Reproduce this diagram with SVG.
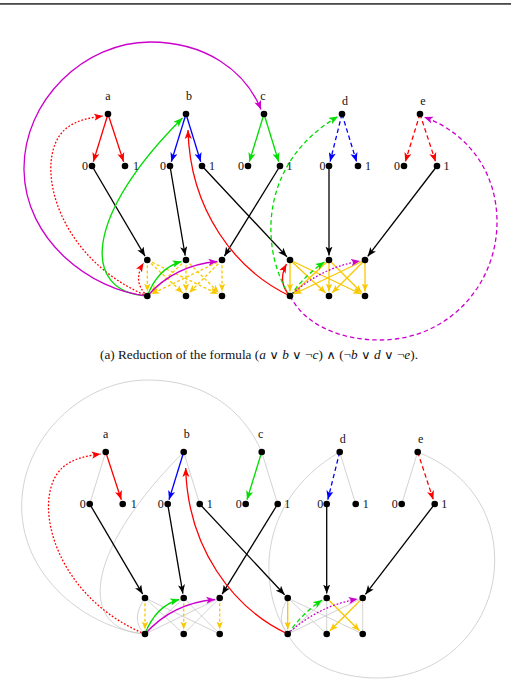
<svg xmlns="http://www.w3.org/2000/svg" width="511" height="684" viewBox="0 0 511 684">
<style>
.e{fill:none;stroke-width:1.3}
.k{stroke:#000}
.r{stroke:#ff0000}
.bl{stroke:#0000ff}
.g{stroke:#00dd00}
.m{stroke:#cc00cc}
.y{stroke:#f8c800}
.gr{fill:none;stroke:#c8c8c8;stroke-width:0.8}
.dash{stroke-dasharray:4.5 3}
.ydash{stroke-dasharray:3 2.2}
.dot{stroke-dasharray:1.8 1.8}
.nd{fill:#000}
.lb{font-family:"Liberation Serif","DejaVu Serif",serif;font-size:12px;fill:#111;text-anchor:middle}
.cap{font-family:"Liberation Serif","DejaVu Serif",serif;font-size:11.5px;fill:#111}
</style>
<defs>
<marker id="mk" viewBox="0 0 10 8" refX="10" refY="4" markerWidth="9" markerHeight="7.5" orient="auto" markerUnits="userSpaceOnUse"><path d="M0,0 L10,4 L0,8 L2.5,4 z" fill="#000"/></marker>
<marker id="mr" viewBox="0 0 10 8" refX="10" refY="4" markerWidth="9" markerHeight="7.5" orient="auto" markerUnits="userSpaceOnUse"><path d="M0,0 L10,4 L0,8 L2.5,4 z" fill="#ff0000"/></marker>
<marker id="mb" viewBox="0 0 10 8" refX="10" refY="4" markerWidth="9" markerHeight="7.5" orient="auto" markerUnits="userSpaceOnUse"><path d="M0,0 L10,4 L0,8 L2.5,4 z" fill="#0000ff"/></marker>
<marker id="mg" viewBox="0 0 10 8" refX="10" refY="4" markerWidth="9" markerHeight="7.5" orient="auto" markerUnits="userSpaceOnUse"><path d="M0,0 L10,4 L0,8 L2.5,4 z" fill="#00dd00"/></marker>
<marker id="mm" viewBox="0 0 10 8" refX="10" refY="4" markerWidth="9" markerHeight="7.5" orient="auto" markerUnits="userSpaceOnUse"><path d="M0,0 L10,4 L0,8 L2.5,4 z" fill="#cc00cc"/></marker>
<marker id="my" viewBox="0 0 10 8" refX="10" refY="4" markerWidth="8" markerHeight="7" orient="auto" markerUnits="userSpaceOnUse"><path d="M0,0 L10,4 L0,8 L2.5,4 z" fill="#f8c800"/></marker>
<circle id="dotnode" r="3.3" class="nd"/>
</defs>
<rect x="0" y="3" width="511" height="1.8" fill="#4a4a4a"/>

<!-- ================= (a) top diagram ================= -->
<g id="edges-a">
  <!-- gold dashed, left group -->
  <path class="e y ydash" d="M147.3,260 L147.3,291.5" marker-end="url(#my)"/>
  <path class="e y ydash" d="M147.3,260 L182.7,292.9" marker-end="url(#my)"/>
  <path class="e y ydash" d="M147.3,260 L217.9,294" marker-end="url(#my)"/>
  <path class="e y ydash" d="M186,260 L150.6,292.9" marker-end="url(#my)"/>
  <path class="e y ydash" d="M186,260 L186,291.5" marker-end="url(#my)"/>
  <path class="e y ydash" d="M186,260 L218.8,292.8" marker-end="url(#my)"/>
  <path class="e y ydash" d="M222,260 L151.4,294" marker-end="url(#my)"/>
  <path class="e y ydash" d="M222,260 L189.2,292.8" marker-end="url(#my)"/>
  <path class="e y ydash" d="M222,260 L222,291.5" marker-end="url(#my)"/>
  <!-- gold solid, right group -->
  <path class="e y" d="M290,260 L290,291.5" marker-end="url(#my)"/>
  <path class="e y" d="M290,260 L325.7,292.9" marker-end="url(#my)"/>
  <path class="e y" d="M290,260 L360.9,294" marker-end="url(#my)"/>
  <path class="e y" d="M329,260 L293.3,292.9" marker-end="url(#my)"/>
  <path class="e y" d="M329,260 L329,291.5" marker-end="url(#my)"/>
  <path class="e y" d="M329,260 L361.8,292.8" marker-end="url(#my)"/>
  <path class="e y" d="M365,260 L294.1,294" marker-end="url(#my)"/>
  <path class="e y" d="M365,260 L332.2,292.8" marker-end="url(#my)"/>
  <path class="e y" d="M365,260 L365,291.5" marker-end="url(#my)"/>
  <!-- variable trees -->
  <path class="e r" d="M108,114 L93.3,161.7" marker-end="url(#mr)"/>
  <path class="e r" d="M108,114 L123.6,161.7" marker-end="url(#mr)"/>
  <path class="e bl" d="M186,114 L171.3,161.7" marker-end="url(#mb)"/>
  <path class="e bl" d="M186,114 L200.7,161.7" marker-end="url(#mb)"/>
  <path class="e g" d="M264,114 L249.3,161.7" marker-end="url(#mg)"/>
  <path class="e g" d="M264,114 L278.7,161.7" marker-end="url(#mg)"/>
  <path class="e bl dash" d="M342,114 L330.1,161.6" marker-end="url(#mb)"/>
  <path class="e bl dash" d="M342,114 L356.6,161.7" marker-end="url(#mb)"/>
  <path class="e r dash" d="M420,114 L405.3,161.7" marker-end="url(#mr)"/>
  <path class="e r dash" d="M420,114 L435.6,161.7" marker-end="url(#mr)"/>
  <!-- black -->
  <path class="e k" d="M92,166 L145,256.1" marker-end="url(#mk)"/>
  <path class="e k" d="M170,166 L185.2,255.6" marker-end="url(#mk)"/>
  <path class="e k" d="M280,166 L224.4,256.2" marker-end="url(#mk)"/>
  <path class="e k" d="M202,166 L286.9,256.7" marker-end="url(#mk)"/>
  <path class="e k" d="M329,166 L329,255.5" marker-end="url(#mk)"/>
  <path class="e k" d="M437,166 L367.7,256.4" marker-end="url(#mk)"/>
  <!-- clause 1 curves -->
  <path class="e r dot" d="M147.3,296 C60,260 35,170 60,135 C70,121 88,118 103,116" marker-end="url(#mr)"/>
  <path class="e r dot" d="M147.3,296 Q132,282 143.5,263" marker-end="url(#mr)"/>
  <path class="e g" d="M147.3,296 C80,292 85,215 182.5,118" marker-end="url(#mg)"/>
  <path class="e g" d="M147.3,296 Q158,268 181.5,261.5" marker-end="url(#mg)"/>
  <path class="e m" d="M147.3,296 Q175,265 217.5,261.5" marker-end="url(#mm)"/>
  <path class="e m" d="M147.3,296 C90,290 25,240 24,170 C23,100 85,42 150,42 C205,42 245,70 261,109.5" marker-end="url(#mm)"/>
  <!-- clause 2 curves -->
  <path class="e r" d="M290,296 C235,270 190,210 188,130" marker-end="url(#mr)"/>
  <path class="e r" d="M290,296 Q277,282 286.5,264" marker-end="url(#mr)"/>
  <path class="e g dash" d="M290,296 C262,255 255,165 338,116.5" marker-end="url(#mg)"/>
  <path class="e g dash" d="M290,296 Q305,275 324.5,262" marker-end="url(#mg)"/>
  <path class="e m dot" d="M290,296 Q320,268 360,261" marker-end="url(#mm)"/>
  <path class="e m dash" d="M290,296 C305,325 340,340 380,340 C448,340 497,285 497,222 C497,172 468,133 424,117" marker-end="url(#mm)"/>
</g>
<g id="a-a"><use href="#dotnode" x="108" y="114"/><text class="lb" x="108" y="100">a</text></g>
<g id="a-a0"><use href="#dotnode" x="92" y="166"/><text class="lb" x="85" y="170">0</text></g>
<g id="a-a1"><use href="#dotnode" x="125" y="166"/><text class="lb" x="136" y="170">1</text></g>
<g id="a-b"><use href="#dotnode" x="186" y="114"/><text class="lb" x="189" y="100">b</text></g>
<g id="a-b0"><use href="#dotnode" x="170" y="166"/><text class="lb" x="163" y="170">0</text></g>
<g id="a-b1"><use href="#dotnode" x="202" y="166"/><text class="lb" x="212" y="170">1</text></g>
<g id="a-c"><use href="#dotnode" x="264" y="114"/><text class="lb" x="263" y="100">c</text></g>
<g id="a-c0"><use href="#dotnode" x="248" y="166"/><text class="lb" x="241" y="170">0</text></g>
<g id="a-c1"><use href="#dotnode" x="280" y="166"/><text class="lb" x="289.5" y="170">1</text></g>
<g id="a-d"><use href="#dotnode" x="342" y="114"/><text class="lb" x="345" y="105">d</text></g>
<g id="a-d0"><use href="#dotnode" x="329" y="166"/><text class="lb" x="322.5" y="170">0</text></g>
<g id="a-d1"><use href="#dotnode" x="358" y="166"/><text class="lb" x="368" y="170">1</text></g>
<g id="a-e"><use href="#dotnode" x="420" y="114"/><text class="lb" x="423" y="105">e</text></g>
<g id="a-e0"><use href="#dotnode" x="404" y="166"/><text class="lb" x="397" y="170">0</text></g>
<g id="a-e1"><use href="#dotnode" x="437" y="166"/><text class="lb" x="446.5" y="170">1</text></g>
<g id="a-L1"><use href="#dotnode" x="147.3" y="260"/></g>
<g id="a-L2"><use href="#dotnode" x="186" y="260"/></g>
<g id="a-L3"><use href="#dotnode" x="222" y="260"/></g>
<g id="a-L4"><use href="#dotnode" x="147.3" y="296"/></g>
<g id="a-L5"><use href="#dotnode" x="186" y="296"/></g>
<g id="a-L6"><use href="#dotnode" x="222" y="296"/></g>
<g id="a-R1"><use href="#dotnode" x="290" y="260"/></g>
<g id="a-R2"><use href="#dotnode" x="329" y="260"/></g>
<g id="a-R3"><use href="#dotnode" x="365" y="260"/></g>
<g id="a-R4"><use href="#dotnode" x="290" y="296"/></g>
<g id="a-R5"><use href="#dotnode" x="329" y="296"/></g>
<g id="a-R6"><use href="#dotnode" x="365" y="296"/></g>

<text class="cap" x="100" y="359" textLength="318" lengthAdjust="spacingAndGlyphs">(a) Reduction of the formula (<tspan font-style="italic">a</tspan> ∨ <tspan font-style="italic">b</tspan> ∨ ¬<tspan font-style="italic">c</tspan>) ∧ (¬<tspan font-style="italic">b</tspan> ∨ <tspan font-style="italic">d</tspan> ∨ ¬<tspan font-style="italic">e</tspan>).</text>

<!-- ================= (b) bottom diagram ================= -->
<g transform="translate(-2.3,338)">
<g id="edges-b">
  <!-- gray unused edges -->
  <path class="gr" d="M108,114 L92,166"/>
  <path class="gr" d="M186,114 L202,166"/>
  <path class="gr" d="M264,114 L280,166"/>
  <path class="gr" d="M342,114 L358,166"/>
  <path class="gr" d="M420,114 L404,166"/>
  <path class="gr" d="M147.3,260 L186,296 M147.3,260 L222,296 M186,260 L147.3,296 M186,260 L222,296 M222,260 L147.3,296 M222,260 L186,296"/>
  <path class="gr" d="M290,260 L329,296 M290,260 L365,296 M329,260 L290,296 M329,260 L329,296 M365,260 L290,296 M365,260 L365,296"/>
  <path class="gr" d="M147.3,296 Q132,282 147.3,260"/>
  <path class="gr" d="M147.3,296 C80,292 85,215 186,114"/>
  <path class="gr" d="M147.3,296 C90,290 25,240 24,170 C23,100 85,42 150,42 C205,42 245,70 264,114"/>
  <path class="gr" d="M290,296 Q277,282 290,260"/>
  <path class="gr" d="M290,296 C262,255 255,165 342,114"/>
  <path class="gr" d="M290,296 C305,325 340,340 380,340 C448,340 497,285 497,222 C497,172 468,133 420,114"/>
  <!-- gold -->
  <path class="e y ydash" d="M147.3,260 L147.3,291.5" marker-end="url(#my)"/>
  <path class="e y ydash" d="M186,260 L186,291.5" marker-end="url(#my)"/>
  <path class="e y ydash" d="M222,260 L222,291.5" marker-end="url(#my)"/>
  <path class="e y" d="M290,260 L290,291.5" marker-end="url(#my)"/>
  <path class="e y" d="M329,260 L361.8,292.8" marker-end="url(#my)"/>
  <path class="e y" d="M365,260 L332.2,292.8" marker-end="url(#my)"/>
  <!-- variable trees -->
  <path class="e r" d="M108,114 L123.6,161.7" marker-end="url(#mr)"/>
  <path class="e bl" d="M186,114 L171.3,161.7" marker-end="url(#mb)"/>
  <path class="e g" d="M264,114 L249.3,161.7" marker-end="url(#mg)"/>
  <path class="e bl dash" d="M342,114 L330.1,161.6" marker-end="url(#mb)"/>
  <path class="e r dash" d="M420,114 L435.6,161.7" marker-end="url(#mr)"/>
  <!-- black -->
  <path class="e k" d="M92,166 L145,256.1" marker-end="url(#mk)"/>
  <path class="e k" d="M170,166 L185.2,255.6" marker-end="url(#mk)"/>
  <path class="e k" d="M280,166 L224.4,256.2" marker-end="url(#mk)"/>
  <path class="e k" d="M202,166 L286.9,256.7" marker-end="url(#mk)"/>
  <path class="e k" d="M329,166 L329,255.5" marker-end="url(#mk)"/>
  <path class="e k" d="M437,166 L367.7,256.4" marker-end="url(#mk)"/>
  <!-- kept curves -->
  <path class="e r dot" d="M147.3,296 C60,260 35,170 60,135 C70,121 88,118 103,116" marker-end="url(#mr)"/>
  <path class="e g" d="M147.3,296 Q158,268 181.5,261.5" marker-end="url(#mg)"/>
  <path class="e m" d="M147.3,296 Q175,265 217.5,261.5" marker-end="url(#mm)"/>
  <path class="e r" d="M290,296 C235,270 190,210 188,130" marker-end="url(#mr)"/>
  <path class="e g dash" d="M290,296 Q305,275 324.5,262" marker-end="url(#mg)"/>
  <path class="e m dot" d="M290,296 Q320,268 360,261" marker-end="url(#mm)"/>
</g>
<g id="b-a"><use href="#dotnode" x="108" y="114"/><text class="lb" x="108" y="100">a</text></g>
<g id="b-a0"><use href="#dotnode" x="92" y="166"/><text class="lb" x="85" y="170">0</text></g>
<g id="b-a1"><use href="#dotnode" x="125" y="166"/><text class="lb" x="136" y="170">1</text></g>
<g id="b-b"><use href="#dotnode" x="186" y="114"/><text class="lb" x="189" y="100">b</text></g>
<g id="b-b0"><use href="#dotnode" x="170" y="166"/><text class="lb" x="163" y="170">0</text></g>
<g id="b-b1"><use href="#dotnode" x="202" y="166"/><text class="lb" x="212" y="170">1</text></g>
<g id="b-c"><use href="#dotnode" x="264" y="114"/><text class="lb" x="263" y="100">c</text></g>
<g id="b-c0"><use href="#dotnode" x="248" y="166"/><text class="lb" x="241" y="170">0</text></g>
<g id="b-c1"><use href="#dotnode" x="280" y="166"/><text class="lb" x="289.5" y="170">1</text></g>
<g id="b-d"><use href="#dotnode" x="342" y="114"/><text class="lb" x="345" y="105">d</text></g>
<g id="b-d0"><use href="#dotnode" x="329" y="166"/><text class="lb" x="322.5" y="170">0</text></g>
<g id="b-d1"><use href="#dotnode" x="358" y="166"/><text class="lb" x="368" y="170">1</text></g>
<g id="b-e"><use href="#dotnode" x="420" y="114"/><text class="lb" x="423" y="105">e</text></g>
<g id="b-e0"><use href="#dotnode" x="404" y="166"/><text class="lb" x="397" y="170">0</text></g>
<g id="b-e1"><use href="#dotnode" x="437" y="166"/><text class="lb" x="446.5" y="170">1</text></g>
<g id="b-L1"><use href="#dotnode" x="147.3" y="260"/></g>
<g id="b-L2"><use href="#dotnode" x="186" y="260"/></g>
<g id="b-L3"><use href="#dotnode" x="222" y="260"/></g>
<g id="b-L4"><use href="#dotnode" x="147.3" y="296"/></g>
<g id="b-L5"><use href="#dotnode" x="186" y="296"/></g>
<g id="b-L6"><use href="#dotnode" x="222" y="296"/></g>
<g id="b-R1"><use href="#dotnode" x="290" y="260"/></g>
<g id="b-R2"><use href="#dotnode" x="329" y="260"/></g>
<g id="b-R3"><use href="#dotnode" x="365" y="260"/></g>
<g id="b-R4"><use href="#dotnode" x="290" y="296"/></g>
<g id="b-R5"><use href="#dotnode" x="329" y="296"/></g>
<g id="b-R6"><use href="#dotnode" x="365" y="296"/></g>
</g>
</svg>
